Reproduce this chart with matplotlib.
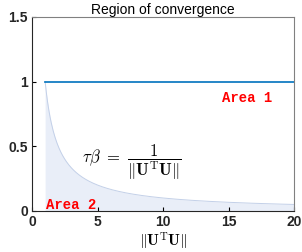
import numpy as np
import matplotlib
matplotlib.use("Agg")
import matplotlib.pyplot as plt

plt.rcParams['font.family'] = ['Liberation Sans', 'DejaVu Sans']
plt.rcParams['mathtext.fontset'] = 'cm'

# data
x_min, x_max = 1, 20
bound_level = 1.0
x_ticks = [0, 5, 10, 15, 20]
y_ticks = [0, 0.5, 1, 1.5]
y_tick_labels = ['0', '0.5', '1', '1.5']

x = np.linspace(x_min, x_max, 400)
curve = 1 / x

fig = plt.figure(figsize=(3.02, 2.52), dpi=100)
ax = fig.add_axes([0.106, 0.163, 0.868, 0.770])

ax.fill_between(x, 0, curve, color='#e9eef8', linewidth=0)
ax.plot(x, curve, color='#c3d0e8', linewidth=0.7)
ax.plot([x_min, x_max], [bound_level, bound_level], color='#0072BD', linewidth=1.2)

ax.text(7.6, 0.38, r'$\tau\beta\ =\ \dfrac{1}{\|\mathbf{U}^{\rm T}\mathbf{U}\|}$',
        fontsize=12, ha='center', va='center')
ax.text(16.4, 0.87, 'Area 1', color='red', fontsize=10, fontweight='bold',
        family='Liberation Mono', ha='center', va='center')
ax.text(3.0, 0.045, 'Area 2', color='red', fontsize=10, fontweight='bold',
        family='Liberation Mono', ha='center', va='center')

ax.set_xlim(0, 20)
ax.set_ylim(0, 1.5)
ax.set_xticks(x_ticks)
ax.set_yticks(y_ticks)
ax.set_yticklabels(y_tick_labels)
ax.tick_params(direction='in', length=3, labelsize=10, width=0.8, pad=3)
for lab in ax.get_xticklabels() + ax.get_yticklabels():
    lab.set_fontweight('bold')
    lab.set_color('#262626')
ax.set_xlabel(r'$\|\mathbf{U}^{\rm T}\mathbf{U}\|$', fontsize=11, labelpad=1)
ax.set_title('Region of convergence', fontsize=10, pad=2)
for s in ['left', 'bottom']:
    ax.spines[s].set_color('#262626')
for s in ['top', 'right']:
    ax.spines[s].set_color('#808080')

fig.savefig('out.png', dpi=100)
